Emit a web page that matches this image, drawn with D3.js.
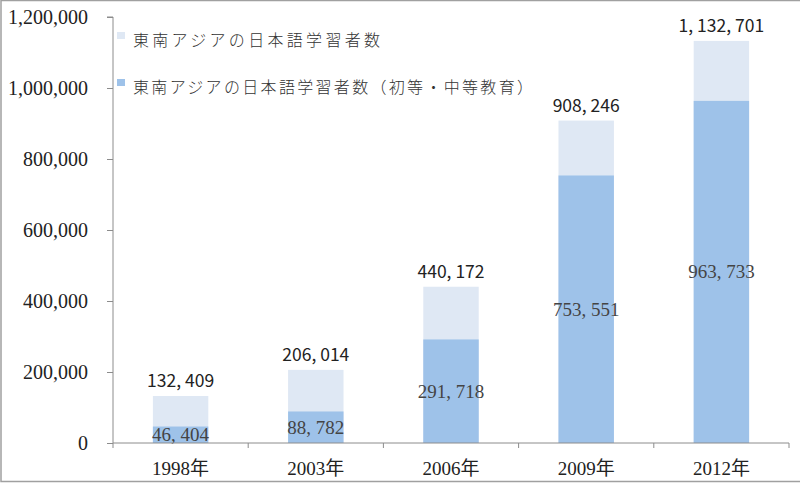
<!DOCTYPE html>
<html><head><meta charset="utf-8">
<script src="https://cdn.jsdelivr.net/npm/d3@7"></script>
<style>
html,body{margin:0;padding:0;background:#fff;}
svg{display:block;}
</style>
</head><body>
<svg id="c" width="800" height="484"></svg>
<script>
const years = ["1998年","2003年","2006年","2009年","2012年"];
const totalLearners = [132409, 206014, 440172, 908246, 1132701];
const schoolLearners = [46404, 88782, 291718, 753551, 963733];
const yTicks = [0, 200000, 400000, 600000, 800000, 1000000, 1200000];
const legendLabels = ["東南アジアの日本語学習者数", "東南アジアの日本語学習者数（初等・中等教育）"];

const svg = d3.select("#c");
const W = 800, H = 484;
const m = {left: 113, right: 11, top: 17, bottom: 41};
const colLight = "#dfe8f4", colBlue = "#9ec2e9", axisCol = "#8c8c8c";
const serif = "'Liberation Serif','Noto Sans CJK JP',serif";
const sans = "'Noto Sans CJK JP','Noto Sans',sans-serif";

// outer frame (left, top, bottom)
svg.append("path").attr("d", `M${W},0.5 H1 V${H-2.5} H${W}`).attr("fill","none").attr("stroke","#a0a0a0").attr("stroke-width",1.5);

const x = d3.scaleBand().domain(years).range([m.left, W - m.right]).paddingInner(0.59).paddingOuter(0.295);
const y = d3.scaleLinear().domain([0, 1200000]).range([H - m.bottom, m.top]);

const bw = x.bandwidth();
const g = svg.append("g");
g.selectAll("rect.t").data(years).enter().append("rect")
  .attr("x", d => x(d)).attr("width", bw)
  .attr("y", (d,i) => y(totalLearners[i])).attr("height", (d,i) => y(0) - y(totalLearners[i]))
  .attr("fill", colLight);
g.selectAll("rect.s").data(years).enter().append("rect")
  .attr("x", d => x(d)).attr("width", bw)
  .attr("y", (d,i) => y(schoolLearners[i])).attr("height", (d,i) => y(0) - y(schoolLearners[i]))
  .attr("fill", colBlue);

const fmt = v => d3.format(",")(v).replace(/,/g, ", ");

// top labels
g.selectAll("text.top").data(years).enter().append("text")
  .attr("x", d => x(d) + bw/2).attr("y", (d,i) => y(totalLearners[i]) - 9)
  .attr("text-anchor","middle").attr("font-family", sans).attr("font-size", 17.5)
  .attr("fill","#222").text((d,i) => fmt(totalLearners[i]));
// inner labels
g.selectAll("text.in").data(years).enter().append("text")
  .attr("x", d => x(d) + bw/2).attr("y", (d,i) => (y(schoolLearners[i]) + y(0))/2)
  .attr("dy","0.34em")
  .attr("text-anchor","middle").attr("font-family", serif).attr("font-size", 19)
  .attr("fill","#444").text((d,i) => fmt(schoolLearners[i]));

// y axis
const ya = svg.append("g").attr("transform", `translate(${m.left},0)`)
  .call(d3.axisLeft(y).tickValues(yTicks).tickFormat(d3.format(",")).tickSize(6).tickPadding(19));
ya.select(".domain").attr("stroke", axisCol).attr("d", `M-6,${y(1200000)}H0V${y(0)}`);
ya.selectAll(".tick line").attr("stroke", axisCol);
ya.selectAll("text").attr("font-family", serif).attr("font-size", 20).attr("fill","#222").attr("dy","0.34em");

// x axis
const xa = svg.append("g").attr("transform", `translate(0,${y(0)})`);
xa.append("line").attr("x1", m.left).attr("x2", W - m.right).attr("stroke", axisCol);
const bounds = years.map(d => x(d) - x.step()*0.295).concat([W - m.right]);
xa.selectAll("line.tk").data(bounds).enter().append("line")
  .attr("x1", d => d).attr("x2", d => d).attr("y1", 0).attr("y2", 5).attr("stroke", axisCol);
xa.selectAll("text").data(years).enter().append("text")
  .attr("x", d => x(d) + bw/2).attr("y", 32)
  .attr("text-anchor","middle").attr("font-family", serif).attr("font-size", 19)
  .attr("fill","#222").text(d => d);

// legend
const lg = svg.append("g");
const lcol = [colLight, colBlue];
const lw = [247, 400];
legendLabels.forEach((t, i) => {
  const yy = 32 + i * 47;
  lg.append("rect").attr("x", 117).attr("y", yy).attr("width", 8).attr("height", 7).attr("fill", lcol[i]);
  lg.append("text").attr("x", 133).attr("y", yy + 14).attr("font-family", sans).attr("font-size", 16)
    .attr("font-weight", 300)
    .attr("fill", "#333").attr("textLength", lw[i]).attr("lengthAdjust","spacing").text(t);
});
</script>
</body></html>
